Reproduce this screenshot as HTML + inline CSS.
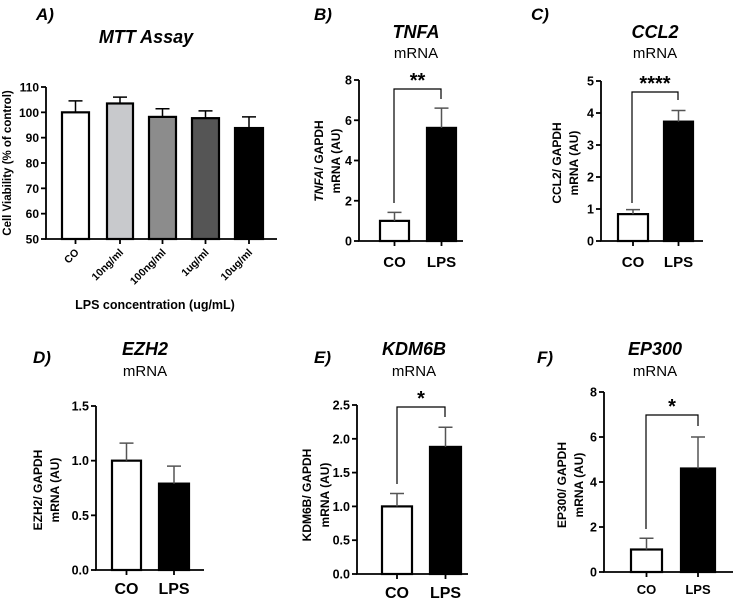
<!DOCTYPE html>
<html><head><meta charset="utf-8"><style>
body{margin:0;background:#fff}
svg{display:block;font-family:"Liberation Sans",Arial,sans-serif}
</style></head><body>
<svg id="fig" width="733" height="601" viewBox="0 0 733 601"></svg>
<script>
// Panel A data
const mttCategories = ["CO","10ng/ml","100ng/ml","1ug/ml","10ug/ml"];
const mttValues = [100, 103.5, 98.2, 97.7, 93.8];
const mttErrors = [4.5, 2.5, 3.2, 2.9, 4.4];
const mttTicks = [50,60,70,80,90,100,110];
// Panel B
const tnfaCategories = ["CO","LPS"];
const tnfaValues = [1.0, 5.62];
const tnfaErrors = [0.42, 0.98];
const tnfaTicks = [0,2,4,6,8];
// Panel C
const ccl2Values = [0.84, 3.73];
const ccl2Errors = [0.14, 0.35];
const ccl2Ticks = [0,1,2,3,4,5];
// Panel D
const ezh2Values = [1.0, 0.79];
const ezh2Errors = [0.16, 0.16];
const ezh2Ticks = [0,0.5,1.0,1.5];
// Panel E
const kdm6bValues = [1.0, 1.88];
const kdm6bErrors = [0.19, 0.29];
const kdm6bTicks = [0,0.5,1.0,1.5,2.0,2.5];
// Panel F
const ep300Values = [1.0, 4.6];
const ep300Errors = [0.5, 1.4];
const ep300Ticks = [0,2,4,6,8];

const NS="http://www.w3.org/2000/svg";
const svg=document.getElementById('fig');
function mk(tag,attrs,parent,text){const e=document.createElementNS(NS,tag);for(const k in attrs)e.setAttribute(k,attrs[k]);if(text!==undefined)e.textContent=text;(parent||svg).appendChild(e);return e;}

function panel(o){
  const g=mk('g',{});
  
  
  const y=v=>o.y0+(v-o.min)/(o.max-o.min)*(o.y1-o.y0);
  o.values.forEach((v,i)=>{
    const [bx0,bx1]=o.bars[i];
    const r=mk('rect',{x:bx0,y:y(v),width:bx1-bx0,height:o.y0-y(v),fill:o.colors[i],stroke:'#000','stroke-width':2.2},g);
    
    
    const cx=(bx0+bx1)/2,top=y(v+o.errors[i]);
    const e=mk('path',{d:`M${cx},${y(v)}V${top}M${cx-7},${top}H${cx+7}`,stroke:o.errColor||'#000','stroke-width':1.5,fill:'none'},g);
    
    
  });
  const ax=mk('path',{d:`M${o.ax},${o.y1}V${o.y0}H${o.xend}`,stroke:'#000','stroke-width':1.8,fill:'none'},g);
  
  
  o.ticks.forEach(t=>{
    mk('line',{x1:o.ax-5,x2:o.ax,y1:y(t),y2:y(t),stroke:'#000','stroke-width':1.8},g);
    const tl=mk('text',{x:o.ax-7,y:y(t)+4.5,'text-anchor':'end','font-size':o.tickSize||12.5,'font-weight':'bold'},g,o.tickFmt?o.tickFmt(t):t);
    
    
  });
  o.cats.forEach((c,i)=>{
    const cx=(o.bars[i][0]+o.bars[i][1])/2;
    mk('line',{x1:cx,x2:cx,y1:o.y0,y2:o.y0+5,stroke:'#000','stroke-width':1.8},g);
    let t;
    if(o.rotate){t=mk('text',{x:cx+4,y:o.y0+14,'text-anchor':'end','font-size':10.5,'font-weight':'bold',transform:`rotate(-45 ${cx+4} ${o.y0+14})`},g,c);}
    else t=mk('text',{x:cx,y:o.catY,'text-anchor':'middle','font-size':o.catSize||15,'font-weight':'bold'},g,c);
    
    
  });
  if(o.bracket){
    const b=o.bracket;
    const p=mk('path',{d:`M${b.lx},${b.lb}V${b.top}H${b.rx}V${b.rb}`,stroke:'#000','stroke-width':1.2,fill:'none'},g);
    
    
    const s=mk('text',{x:(b.lx+b.rx)/2,y:b.top-2,'text-anchor':'middle','font-size':20,'font-weight':'bold'},g,b.stars);
    
    
  }
  const L=mk('text',{x:o.letter[0],y:o.letter[1],'font-size':17,'font-weight':'bold','font-style':'italic'},g,o.letterText);
  
  
  const T=mk('text',{x:o.title[0],y:o.title[1],'text-anchor':'middle','font-size':18,'font-weight':'bold','font-style':'italic'},g,o.titleText);
  
  
  if(o.sub){const S=mk('text',{x:o.title[0],y:o.sub,'text-anchor':'middle','font-size':15},g,'mRNA');
    
    }
  o.ytitle.forEach((ln,i)=>{
    const [tx,ty]=o.ytpos[i];
    const t=mk('text',{x:tx,y:ty,'text-anchor':'middle','font-size':o.ytSize||12,'font-weight':'bold',transform:`rotate(-90 ${tx} ${ty})`},g);
    if(Array.isArray(ln)){mk('tspan',{'font-style':'italic'},t,ln[0]);mk('tspan',{},t,ln[1]);}else t.textContent=ln;
    
    
  });
  return y;
}

panel({name:'mtt',values:mttValues,errors:mttErrors,cats:mttCategories,ticks:mttTicks,min:50,max:110,
  y0:239,y1:87,ax:46,xend:277,bars:[[62,89],[107,133],[149,176],[192,219],[235,263]],
  colors:['#fff','#c8c9cc','#8c8c8c','#555','#000'],rotate:true,tickSize:12,
  letter:[36,20],letterText:'A)',title:[146,43],titleText:'MTT Assay',
  ytitle:['Cell Viability (% of control)'],ytpos:[[11,163]],ytSize:11.5});
const xl=mk('text',{x:155,y:309,'text-anchor':'middle','font-size':12.5,'font-weight':'bold'},svg,'LPS concentration (ug/mL)');



panel({name:'tnfa',values:tnfaValues,errors:tnfaErrors,cats:tnfaCategories,ticks:tnfaTicks,min:0,max:8,
  y0:241,y1:80,ax:359,xend:463,bars:[[380,409],[427,456]],colors:['#fff','#000'],errColor:'#555',catY:267,
  bracket:{lx:394,rx:441,top:89,lb:203,rb:99,stars:'**'},
  letter:[314,20],letterText:'B)',title:[416,38],titleText:'TNFA',sub:58,
  ytitle:[['TNFA','/ GAPDH'],'mRNA (AU)'],ytpos:[[323,161],[340,161]]});

panel({name:'ccl2',values:ccl2Values,errors:ccl2Errors,cats:tnfaCategories,ticks:ccl2Ticks,min:0,max:5,
  y0:241,y1:81,ax:601,xend:703,bars:[[618,648],[664,693]],colors:['#fff','#000'],errColor:'#555',catY:267,
  bracket:{lx:632,rx:678,top:92,lb:203,rb:100,stars:'****'},
  letter:[531,20],letterText:'C)',title:[655,38],titleText:'CCL2',sub:58,
  ytitle:['CCL2/ GAPDH','mRNA (AU)'],ytpos:[[561,163],[578,163]]});

const f1=t=>t.toFixed(1);
panel({name:'ezh2',values:ezh2Values,errors:ezh2Errors,cats:tnfaCategories,ticks:ezh2Ticks,min:0,max:1.5,tickFmt:f1,
  y0:570,y1:406,ax:96,xend:204,bars:[[112,141],[159,189]],colors:['#fff','#000'],errColor:'#555',catY:594,catSize:16,
  letter:[33,363],letterText:'D)',title:[145,355],titleText:'EZH2',sub:376,
  ytitle:['EZH2/ GAPDH','mRNA (AU)'],ytpos:[[42,490],[59,490]]});

panel({name:'kdm6b',values:kdm6bValues,errors:kdm6bErrors,cats:tnfaCategories,ticks:kdm6bTicks,min:0,max:2.5,tickFmt:f1,
  y0:574,y1:405,ax:357,xend:468,bars:[[382,412],[430,461]],colors:['#fff','#000'],errColor:'#555',catY:598,catSize:16,
  bracket:{lx:397,rx:445,top:407,lb:484,rb:417,stars:'*'},
  letter:[314,363],letterText:'E)',title:[414,355],titleText:'KDM6B',sub:376,
  ytitle:['KDM6B/ GAPDH','mRNA (AU)'],ytpos:[[311,495],[329,495]]});

panel({name:'ep300',values:ep300Values,errors:ep300Errors,cats:tnfaCategories,ticks:ep300Ticks,min:0,max:8,
  y0:572,y1:392,ax:604,xend:733,bars:[[631,662],[681,715]],colors:['#fff','#000'],errColor:'#555',catY:594,catSize:13,
  bracket:{lx:646,rx:698,top:415,lb:529,rb:426,stars:'*'},
  letter:[537,363],letterText:'F)',title:[655,355],titleText:'EP300',sub:376,
  ytitle:['EP300/ GAPDH','mRNA (AU)'],ytpos:[[566,485],[583,485]]});
</script>
</body></html>
